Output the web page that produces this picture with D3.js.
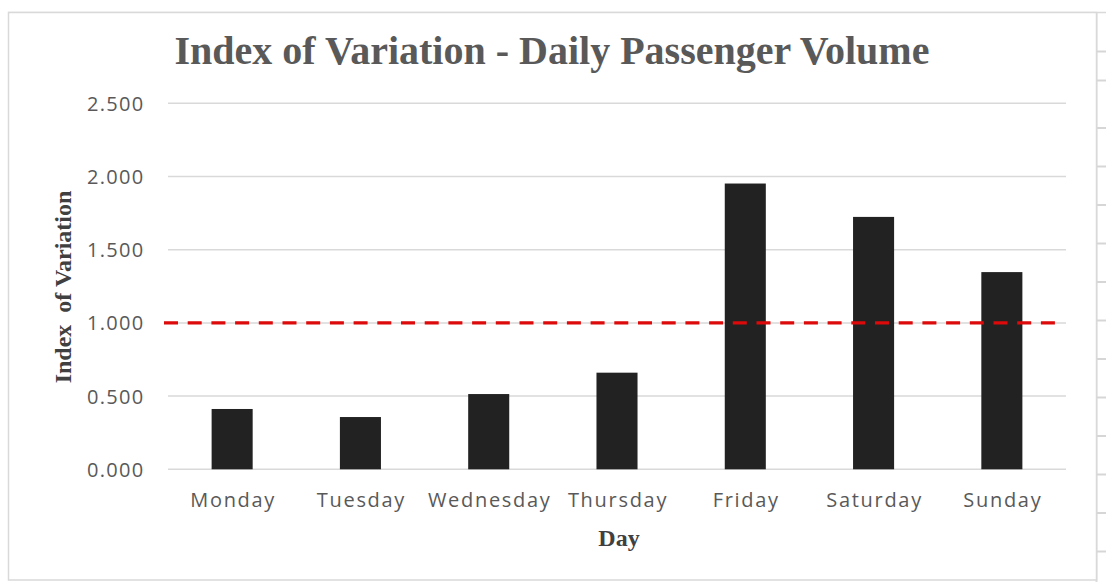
<!DOCTYPE html>
<html>
<head>
<meta charset="utf-8">
<script src="https://cdn.jsdelivr.net/npm/d3@7"></script>
<style>
  html, body { margin: 0; padding: 0; background: #ffffff; }
  svg { display: block; }
</style>
</head>
<body>
<svg id="chart" width="1106" height="582"></svg>
<script>
// ---- data ----
const days = ["Monday", "Tuesday", "Wednesday", "Thursday", "Friday", "Saturday", "Sunday"];
const indexValues = [0.412, 0.357, 0.514, 0.660, 1.952, 1.724, 1.347];
const yTicks = [0, 0.5, 1.0, 1.5, 2.0, 2.5];
const referenceValue = [1.0];
const chartTitle = "Index of Variation - Daily Passenger Volume";
const yTitle = "Index  of Variation";
const xTitle = "Day";

// ---- layout ----
const W = 1106, H = 582;
const plot = { left: 168, right: 1066, top: 103.3, bottom: 469.3 };
const svg = d3.select("#chart");

// background Excel-like cell lines on the right
const grid = svg.append("g");
grid.append("line").attr("x1", 1096.5).attr("x2", 1096.5).attr("y1", 12).attr("y2", 582)
  .attr("stroke", "#dcdcdc").attr("stroke-width", 2);
grid.append("line").attr("x1", 8).attr("x2", 1106).attr("y1", 12.5).attr("y2", 12.5)
  .attr("stroke", "#d9d9d9").attr("stroke-width", 1.5);
const cellRows = [51.5, 80.5].concat(d3.range(128, 582, 38.5));
grid.selectAll("line.cell").data(cellRows).join("line").attr("class", "cell")
  .attr("x1", 1097).attr("x2", 1106).attr("y1", d => d).attr("y2", d => d)
  .attr("stroke", "#d6d6d6").attr("stroke-width", 2);

// chart border
svg.append("rect").attr("x", 8.5).attr("y", 12.5).attr("width", 1088).attr("height", 567.5)
  .attr("fill", "#ffffff").attr("stroke", "#d9d9d9").attr("stroke-width", 1.5);

// ---- scales ----
const x = d3.scaleBand().domain(days).range([plot.left, plot.right]).paddingInner(0.68).paddingOuter(0.34);
const y = d3.scaleLinear().domain([0, 2.5]).range([plot.bottom, plot.top]);

// gridlines
svg.append("g").selectAll("line").data(yTicks).join("line")
  .attr("x1", plot.left).attr("x2", plot.right)
  .attr("y1", d => y(d)).attr("y2", d => y(d))
  .attr("stroke", "#d9d9d9").attr("stroke-width", 1.5);

// y axis labels
const yAxis = d3.axisLeft(y).tickValues(yTicks).tickFormat(d3.format(".3f")).tickSize(0).tickPadding(0);
const yg = svg.append("g").attr("transform", `translate(144.5,0)`).call(yAxis);
yg.select(".domain").remove();
yg.selectAll("text").attr("fill", "#595959").attr("font-family", "'Open Sans', sans-serif")
  .attr("font-size", 20).attr("letter-spacing", 1.3).attr("dy", "0.35em");

// bars
svg.append("g").selectAll("rect").data(indexValues).join("rect")
  .attr("x", (d, i) => x(days[i]))
  .attr("width", x.bandwidth())
  .attr("y", d => y(d))
  .attr("height", d => y(0) - y(d))
  .attr("fill", "#222222");

// reference dashed line
svg.append("g").selectAll("line").data(referenceValue).join("line")
  .attr("x1", 164).attr("x2", 1056)
  .attr("y1", d => y(d)).attr("y2", d => y(d))
  .attr("stroke", "#dc0a0a").attr("stroke-width", 3.3)
  .attr("stroke-dasharray", "14,9.7");

// x axis labels
const xAxis = d3.axisBottom(x).tickSize(0).tickPadding(0);
const xg = svg.append("g").attr("transform", `translate(1,${plot.bottom})`).call(xAxis);
xg.select(".domain").remove();
xg.selectAll("text").attr("fill", "#595959").attr("font-family", "'Open Sans', sans-serif")
  .attr("font-size", 20).attr("letter-spacing", 1.7).attr("dy", "0").attr("y", 38);

// titles
svg.append("text").attr("x", 552).attr("y", 64).attr("text-anchor", "middle")
  .attr("font-family", "'Liberation Serif', serif").attr("font-weight", "bold")
  .attr("font-size", 40).attr("fill", "#595959").text(chartTitle);

svg.append("text").attr("transform", `translate(71,287) rotate(-90)`).attr("text-anchor", "middle")
  .attr("font-family", "'Liberation Serif', serif").attr("font-weight", "bold")
  .attr("font-size", 24).attr("fill", "#404040").style("white-space", "pre").text(yTitle);

svg.append("text").attr("x", 619).attr("y", 546).attr("text-anchor", "middle")
  .attr("font-family", "'Liberation Serif', serif").attr("font-weight", "bold")
  .attr("font-size", 24).attr("fill", "#404040").text(xTitle);
</script>
</body>
</html>
